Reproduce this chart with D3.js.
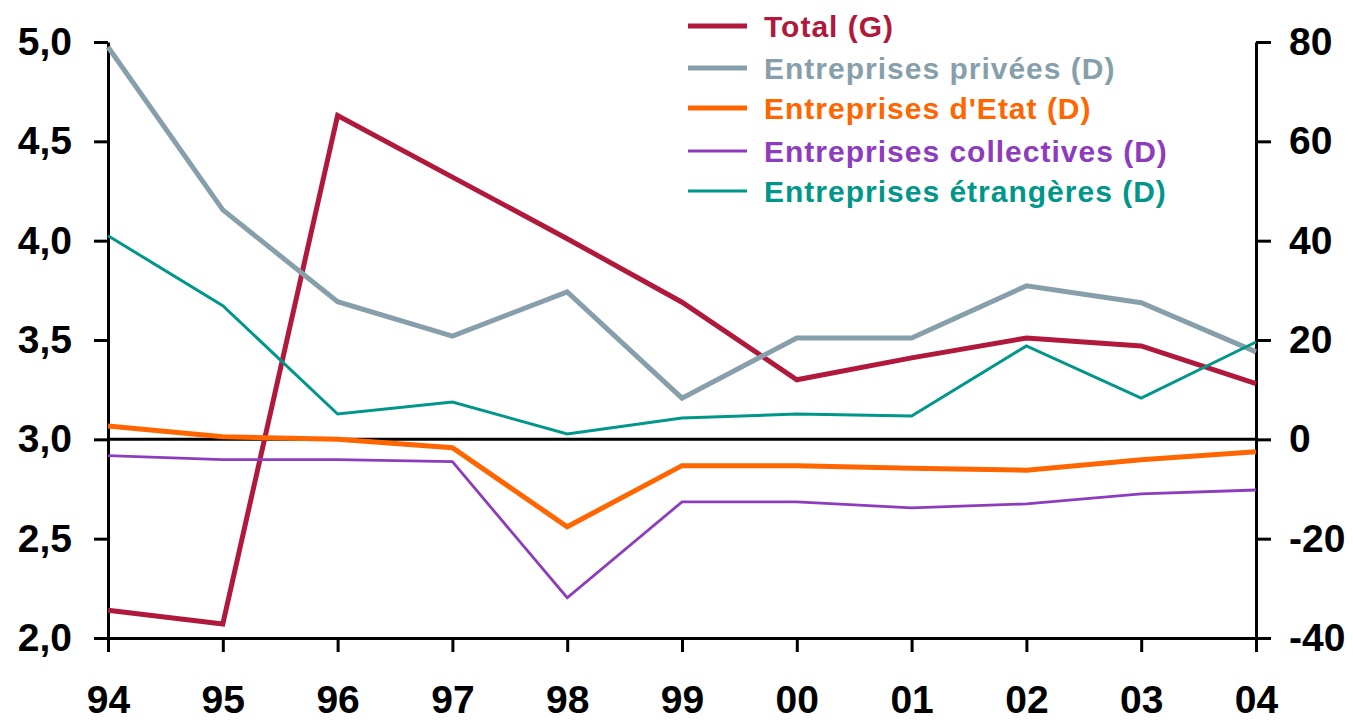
<!DOCTYPE html>
<html>
<head>
<meta charset="utf-8">
<script src="https://cdn.jsdelivr.net/npm/d3@7"></script>
<style>
  body { margin: 0; background: #fff; }
  svg { display: block; font-family: "Liberation Sans", Arial, sans-serif; }
</style>
</head>
<body>
<svg id="chart" width="1353" height="723"></svg>
<script>
// data
const years = ["94", "95", "96", "97", "98", "99", "00", "01", "02", "03", "04"];
const total = [2.14, 2.07, 4.63, 4.32, 4.01, 3.69, 3.30, 3.41, 3.51, 3.47, 3.28];
const privees = [79, 46.2, 27.7, 20.8, 29.7, 8.3, 20.4, 20.4, 30.9, 27.5, 17.6];
const etat = [2.7, 0.5, 0, -1.7, -17.6, -5.3, -5.3, -5.8, -6.2, -4.1, -2.5];
const collectives = [-3.3, -4.1, -4.1, -4.5, -31.9, -12.6, -12.6, -13.8, -13.0, -11.0, -10.2];
const etrangeres = [41, 26.9, 5.1, 7.5, 1.1, 4.3, 5.1, 4.7, 18.8, 8.3, 19.6];
const leftTicks = [2.0, 2.5, 3.0, 3.5, 4.0, 4.5, 5.0];
const rightTicks = [-40, -20, 0, 20, 40, 60, 80];

const series = [
  {name: "Total (G)", values: total, axis: "L", color: "#B0183C", width: 5},
  {name: "Entreprises privées (D)", values: privees, axis: "R", color: "#879FAB", width: 5},
  {name: "Entreprises d'Etat (D)", values: etat, axis: "R", color: "#FF6600", width: 5},
  {name: "Entreprises collectives (D)", values: collectives, axis: "R", color: "#8E3CBE", width: 2.8},
  {name: "Entreprises étrangères (D)", values: etrangeres, axis: "R", color: "#00968A", width: 3}
];

const svg = d3.select("#chart");
const xLeft = 108, xRight = 1256, yTop = 42, yBottom = 638;

let x = d3.scalePoint().domain(years).range([xLeft, xRight]);
let yL = d3.scaleLinear().domain([2, 5]).range([yBottom, yTop]);
let yR = d3.scaleLinear().domain([-40, 80]).range([yBottom, yTop]);

const comma = d => d.toFixed(1).replace(".", ",");
const plain = d => String(d); // keeps a normal hyphen for negatives

// axes
let gx = svg.append("g")
  .attr("transform", "translate(0," + yBottom + ")")
  .call(d3.axisBottom(x).tickSize(14).tickSizeOuter(0).tickPadding(33));
let gl = svg.append("g")
  .attr("transform", "translate(" + xLeft + ",0)")
  .call(d3.axisLeft(yL).tickValues(leftTicks).tickFormat(comma).tickSize(14).tickSizeOuter(0).tickPadding(22));
let gr = svg.append("g")
  .attr("transform", "translate(" + xRight + ",0)")
  .call(d3.axisRight(yR).tickValues(rightTicks).tickFormat(plain).tickSize(15).tickSizeOuter(0).tickPadding(18));

[gx, gl, gr].forEach(g => {
  g.select(".domain").attr("stroke", "#000").attr("stroke-width", 3);
  g.selectAll(".tick line").attr("stroke", "#000").attr("stroke-width", 3);
  g.selectAll(".tick text")
    .attr("fill", "#000")
    .style("font-size", "39px")
    .style("font-weight", "bold")
    .style("font-family", "'Liberation Sans', Arial, sans-serif");
});

// zero line of the right axis
svg.append("line")
  .attr("x1", xLeft).attr("x2", xRight)
  .attr("y1", yR(0)).attr("y2", yR(0))
  .attr("stroke", "#000").attr("stroke-width", 3);

// lines
series.forEach(s => {
  let yS = s.axis === "L" ? yL : yR;
  let line = d3.line().x((d, i) => x(years[i])).y(d => yS(d));
  svg.append("path")
    .datum(s.values)
    .attr("d", line)
    .attr("fill", "none")
    .attr("stroke", s.color)
    .attr("stroke-width", s.width)
    .attr("stroke-linejoin", "miter");
});

// legend
const legendY = [26, 68, 108, 151, 191];
let lg = svg.append("g");
series.forEach((s, i) => {
  lg.append("line")
    .attr("x1", 688).attr("x2", 747)
    .attr("y1", legendY[i]).attr("y2", legendY[i])
    .attr("stroke", s.color).attr("stroke-width", s.width);
  lg.append("text")
    .text(s.name)
    .attr("x", 764)
    .attr("y", legendY[i])
    .attr("dy", "0.36em")
    .attr("fill", s.color)
    .style("font-size", "30px")
    .style("letter-spacing", "1px")
    .style("font-weight", "bold");
});
</script>
</body>
</html>
